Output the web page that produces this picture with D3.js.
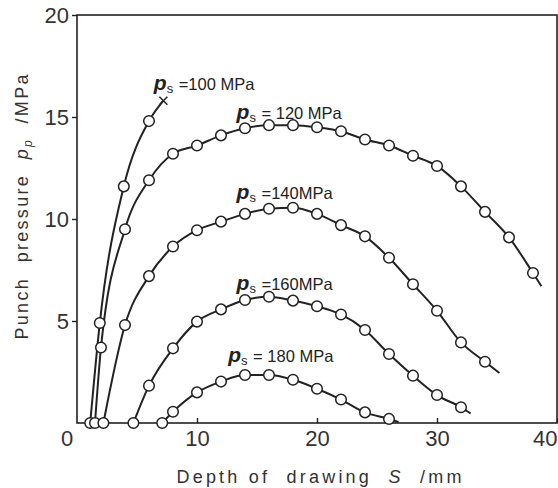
<!DOCTYPE html>
<html>
<head>
<meta charset="UTF-8">
<title>Punch pressure vs depth of drawing</title>
<script src="https://d3js.org/d3.v7.min.js"></script>
<style>
  body { margin: 0; background: #fff; }
  text { white-space: pre; }
</style>
</head>
<body>
<div id="chart"></div>
<script>
// blank holder pressure p_s (MPa) for each curve
const holderPressure = [100, 120, 140, 160, 180];

// measured points: depth of drawing S (mm) and punch pressure p_p (MPa)
const depth100 = [1.1, 1.9, 3.9, 6.0];
const press100 = [0, 4.9, 11.6, 14.8];
const depth120 = [1.5, 2.0, 4, 6, 8, 10, 12, 14, 16, 18, 20, 22, 24, 26, 28, 30, 32, 34, 36, 38];
const press120 = [0, 3.7, 9.5, 11.9, 13.2, 13.6, 14.1, 14.45, 14.6, 14.6, 14.5, 14.3, 13.9, 13.6, 13.1, 12.6, 11.6, 10.35, 9.1, 7.35];
const depth140 = [2.2, 4, 6, 8, 10, 12, 14, 16, 18, 20, 22, 24, 26, 28, 30, 32, 34];
const press140 = [0, 4.8, 7.2, 8.65, 9.45, 9.87, 10.25, 10.5, 10.55, 10.25, 9.7, 9.15, 8.1, 6.8, 5.5, 3.95, 3.0];
const depth160 = [4.7, 6, 8, 10, 12, 14, 16, 18, 20, 22, 24, 26, 28, 30, 32];
const press160 = [0, 1.83, 3.66, 4.97, 5.57, 6.03, 6.19, 6.0, 5.72, 5.32, 4.56, 3.38, 2.32, 1.37, 0.77];
const depth180 = [7.1, 8, 10, 12, 14, 16, 18, 20, 22, 24, 26];
const press180 = [0, 0.55, 1.5, 2.03, 2.35, 2.35, 2.12, 1.68, 1.15, 0.52, 0.2];

// where each drawn curve stops (100 MPa ends in fracture, marked x)
const curveEnd = [[7.2, 15.8], [38.7, 6.7], [35.2, 2.45], [32.8, 0.47], [26.8, 0.05]];

const xTicks = [10, 20, 30, 40];
const yTicks = [5, 10, 15, 20];

// label anchors (data units)
const labelAt = [[6.4, 16.3], [13.3, 14.9], [13.3, 11.0], [13.3, 6.5], [12.6, 2.98]];

const W = 558, H = 488;
const ink = "#222";
const tickFont = "'Liberation Sans', Arial, sans-serif";
const narrow = "'Liberation Sans Narrow', 'Liberation Sans', sans-serif";

const svg = d3.select("#chart").append("svg")
  .attr("width", W).attr("height", H);

const x = d3.scaleLinear().domain([0, 40]).range([77, 557]);
const y = d3.scaleLinear().domain([0, 20]).range([423, 15]);

const depths = [depth100, depth120, depth140, depth160, depth180];
const presses = [press100, press120, press140, press160, press180];

const series = holderPressure.map((ps, i) => ({
  ps: ps,
  points: depths[i].map((d, j) => [d, presses[i][j]]),
  end: curveEnd[i],
  label: labelAt[i]
}));

// frame
svg.append("rect")
  .attr("x", x(0)).attr("y", y(20))
  .attr("width", x(40) - x(0)).attr("height", y(0) - y(20))
  .attr("fill", "none").attr("stroke", ink).attr("stroke-width", 1.6);

// axes
const yAxis = svg.append("g")
  .attr("transform", `translate(${x(0)},0)`)
  .call(d3.axisLeft(y).tickValues(yTicks).tickSize(5).tickPadding(3).tickFormat(d3.format("d")));
const xAxis = svg.append("g")
  .attr("transform", `translate(0,${y(0)})`)
  .call(d3.axisBottom(x).tickValues(xTicks).tickSizeInner(-5).tickSizeOuter(0).tickPadding(7).tickFormat(d3.format("d")));

[yAxis, xAxis].forEach(g => {
  g.select(".domain").remove();
  g.selectAll(".tick line").attr("stroke", ink).attr("stroke-width", 1.4);
  g.selectAll(".tick text")
    .attr("fill", "#333")
    .attr("font-family", tickFont)
    .attr("font-size", 22);
});

// last x label sits at the page edge: keep it inside
xAxis.selectAll(".tick text")
  .filter(d => d === 40)
  .attr("text-anchor", "end")
  .attr("x", W - 1 - x(40));

// shared origin label
svg.append("text")
  .attr("x", x(0) - 10).attr("y", y(0) + 7).attr("dy", "0.71em")
  .attr("text-anchor", "middle")
  .attr("fill", "#333").attr("font-family", tickFont).attr("font-size", 22)
  .text("0");

// curves
const line = d3.line()
  .x(d => x(d[0])).y(d => y(d[1]))
  .curve(d3.curveMonotoneX);

svg.append("g").selectAll("path")
  .data(series)
  .join("path")
  .attr("d", d => line(d.points.concat([d.end])))
  .attr("fill", "none")
  .attr("stroke", ink)
  .attr("stroke-width", 2);

// measured points
svg.append("g").selectAll("g")
  .data(series)
  .join("g")
  .selectAll("circle")
  .data(d => d.points)
  .join("circle")
  .attr("cx", d => x(d[0]))
  .attr("cy", d => y(d[1]))
  .attr("r", 5.3)
  .attr("fill", "#fff")
  .attr("stroke", ink)
  .attr("stroke-width", 1.5);

// fracture mark on the 100 MPa curve
const fx = x(series[0].end[0]), fy = y(series[0].end[1]);
svg.append("path")
  .attr("d", `M${fx - 4},${fy - 4}L${fx + 4},${fy + 4}M${fx - 4},${fy + 4}L${fx + 4},${fy - 4}`)
  .attr("stroke", ink).attr("stroke-width", 1.5);

// curve labels  p_s = ... MPa
const lab = svg.append("g").selectAll("text")
  .data(series)
  .join("text")
  .attr("x", d => x(d.label[0]))
  .attr("y", d => y(d.label[1]))
  .attr("fill", ink)
  .attr("font-family", narrow)
  .attr("font-size", 16.5);
lab.append("tspan")
  .attr("font-family", "'Liberation Sans', sans-serif")
  .attr("font-style", "italic").attr("font-weight", "bold")
  .attr("font-size", 21)
  .text("p");
lab.append("tspan")
  .attr("font-size", 13).attr("dy", 3)
  .text("s");
lab.append("tspan")
  .attr("dy", -3).attr("dx", 1)
  .text(d => {
    if (d.ps === 140 || d.ps === 160) return " =" + d.ps + "MPa";
    return (d.ps === 100 ? " =" : " = ") + d.ps + " MPa";
  });

// axis titles
const titleFont = narrow;
svg.append("text")
  .attr("x", (x(0) + x(40)) / 2 + 2).attr("y", 483)
  .attr("text-anchor", "middle")
  .attr("fill", "#333")
  .attr("font-family", titleFont).attr("font-size", 18)
  .attr("textLength", 285).attr("lengthAdjust", "spacing")
  .call(t => {
    t.append("tspan").text("Depth of  drawing  ");
    t.append("tspan").attr("font-style", "italic").text("S");
    t.append("tspan").text("  /mm");
  });

svg.append("text")
  .attr("transform", `translate(28,${207}) rotate(-90)`)
  .attr("text-anchor", "middle")
  .attr("fill", "#333")
  .attr("font-family", titleFont).attr("font-size", 18)
  .attr("textLength", 265).attr("lengthAdjust", "spacing")
  .call(t => {
    t.append("tspan").text("Punch  pressure  ");
    t.append("tspan").attr("font-style", "italic").text("p");
    t.append("tspan").attr("font-style", "italic").attr("font-size", 12).attr("dy", 4).text("p");
    t.append("tspan").attr("dy", -4).text("  /MPa");
  });
</script>
</body>
</html>
